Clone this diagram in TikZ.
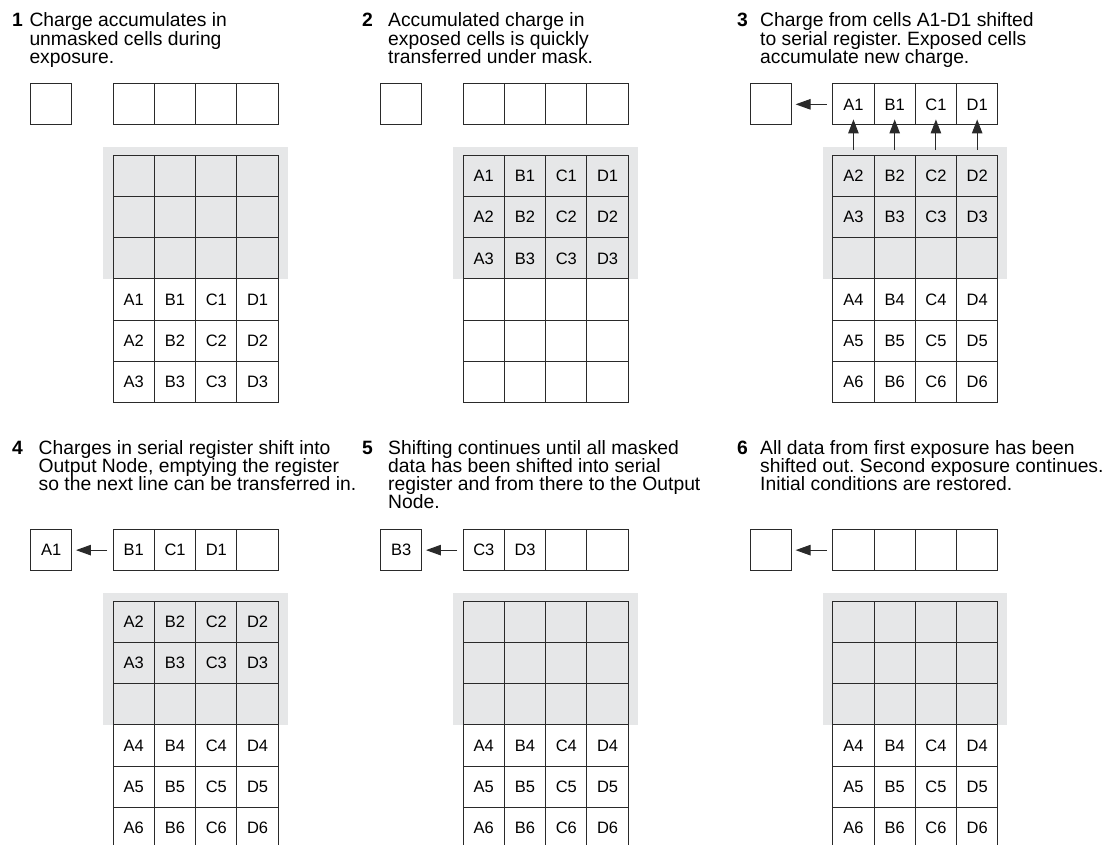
\documentclass[tikz,border=0pt]{standalone}
\usepackage{fontspec}
\setmainfont{Liberation Sans}
\usetikzlibrary{arrows.meta}
\frenchspacing
\definecolor{maskgray}{HTML}{E6E7E8}
\definecolor{linecol}{HTML}{2A2A2A}
\tikzset{
  cell/.style={draw=linecol, line width=1pt, minimum width=41.25pt, minimum height=41.25pt,
    inner sep=0pt, font=\fontsize{16.5}{18}\selectfont},
  arr/.style={draw=linecol, line width=1pt, -{Triangle[length=14pt,width=10.5pt]}},
  title/.style={anchor=base west, inner sep=0pt, font=\fontsize{19.3}{18.3}\selectfont},
  num/.style={anchor=base west, inner sep=0pt, font=\fontsize{19.3}{18.3}\selectfont\bfseries},
}
\newcommand\linesof[1]{\vtop{\frenchspacing\baselineskip=18.3pt\lineskiplimit=-100pt\lineskip=0pt\halign{##\hfil\cr#1\crcr}}}
\newcommand\ccdpanel[6]{%
  \fill[maskgray] ({#2+72.5},{#3+63}) rectangle ({#2+257},{#3+71.5+123.75});
  \node[cell] (#1o) at ({#2+20.625},{#3+20.625}) {#4};
  \foreach \txt [count=\ii] in {#5} {
    \node[cell] (#1r\ii) at ({#2+82.5+41.25*(\ii-0.5)},{#3+20.625}) {\txt};
  }
  \foreach \rv [count=\ri] in {#6} {
    \foreach \lt [count=\ci] in {A,B,C,D} {
      \node[cell] (#1g\ri\ci) at ({#2+82.5+41.25*(\ci-0.5)},{#3+71.5+41.25*(\ri-0.5)}) {\ifnum\rv>0 \lt\rv\fi};
    }
  }
}
\begin{document}
\begin{tikzpicture}[x=1pt,y=-1pt]
\useasboundingbox (0,0) rectangle (1108,844);
\fill[white] (0,0) rectangle (1108,844);
\clip (0,0) rectangle (1108,844);

% ---------- panel titles ----------
\node[num] (n1) at (12,26.7) {1};
\node[title] (t1) at (29.3,26.7) {\linesof{Charge accumulates in\cr unmasked cells during\cr exposure.}};
\node[num] (n2) at (362,26.7) {2};
\node[title] (t2) at (388,26.7) {\linesof{Accumulated charge in\cr exposed cells is quickly\cr transferred under mask.}};
\node[num] (n3) at (737,26.7) {3};
\node[title] (t3) at (760,26.7) {\linesof{Charge from cells A1-D1 shifted\cr to serial register. Exposed cells\cr accumulate new charge.}};
\node[num] (n4) at (12,454) {4};
\node[title] (t4) at (38.5,454) {\linesof{Charges in serial register shift into\cr Output Node, emptying the register\cr so the next line can be transferred in.}};
\node[num] (n5) at (362,454) {5};
\node[title] (t5) at (388,454) {\linesof{Shifting continues until all masked\cr data has been shifted into serial\cr register and from there to the Output\cr Node.}};
\node[num] (n6) at (737,454) {6};
\node[title] (t6) at (760,454) {\linesof{All data from first exposure has been\cr shifted out. Second exposure continues.\cr Initial conditions are restored.}};

% ---------- panels ----------
\ccdpanel{p1}{30.7}{83.7}{}{{},{},{},{}}{0,0,0,1,2,3}
\ccdpanel{p2}{380.7}{83.7}{}{{},{},{},{}}{1,2,3,0,0,0}
\ccdpanel{p3}{750.3}{83.7}{}{A1,B1,C1,D1}{2,3,0,4,5,6}
\ccdpanel{p4}{30.7}{529.5}{A1}{B1,C1,D1,{}}{2,3,0,4,5,6}
\ccdpanel{p5}{380.7}{529.5}{B3}{C3,D3,{},{}}{0,0,0,4,5,6}
\ccdpanel{p6}{750.3}{529.5}{}{{},{},{},{}}{0,0,0,4,5,6}

% ---------- arrows ----------
\foreach \ci in {1,2,3,4} {
  \draw[arr, shorten <=5pt, shorten >=-6pt] (p3g1\ci.north) -- (p3r\ci.south);
}
\foreach \pp in {p3,p4,p5,p6} {
  \draw[arr, -{Triangle[length=15pt,width=10.5pt]}, shorten <=5.5pt, shorten >=3.5pt] (\pp r1.west) -- (\pp o.east);
}
\end{tikzpicture}
\end{document}
